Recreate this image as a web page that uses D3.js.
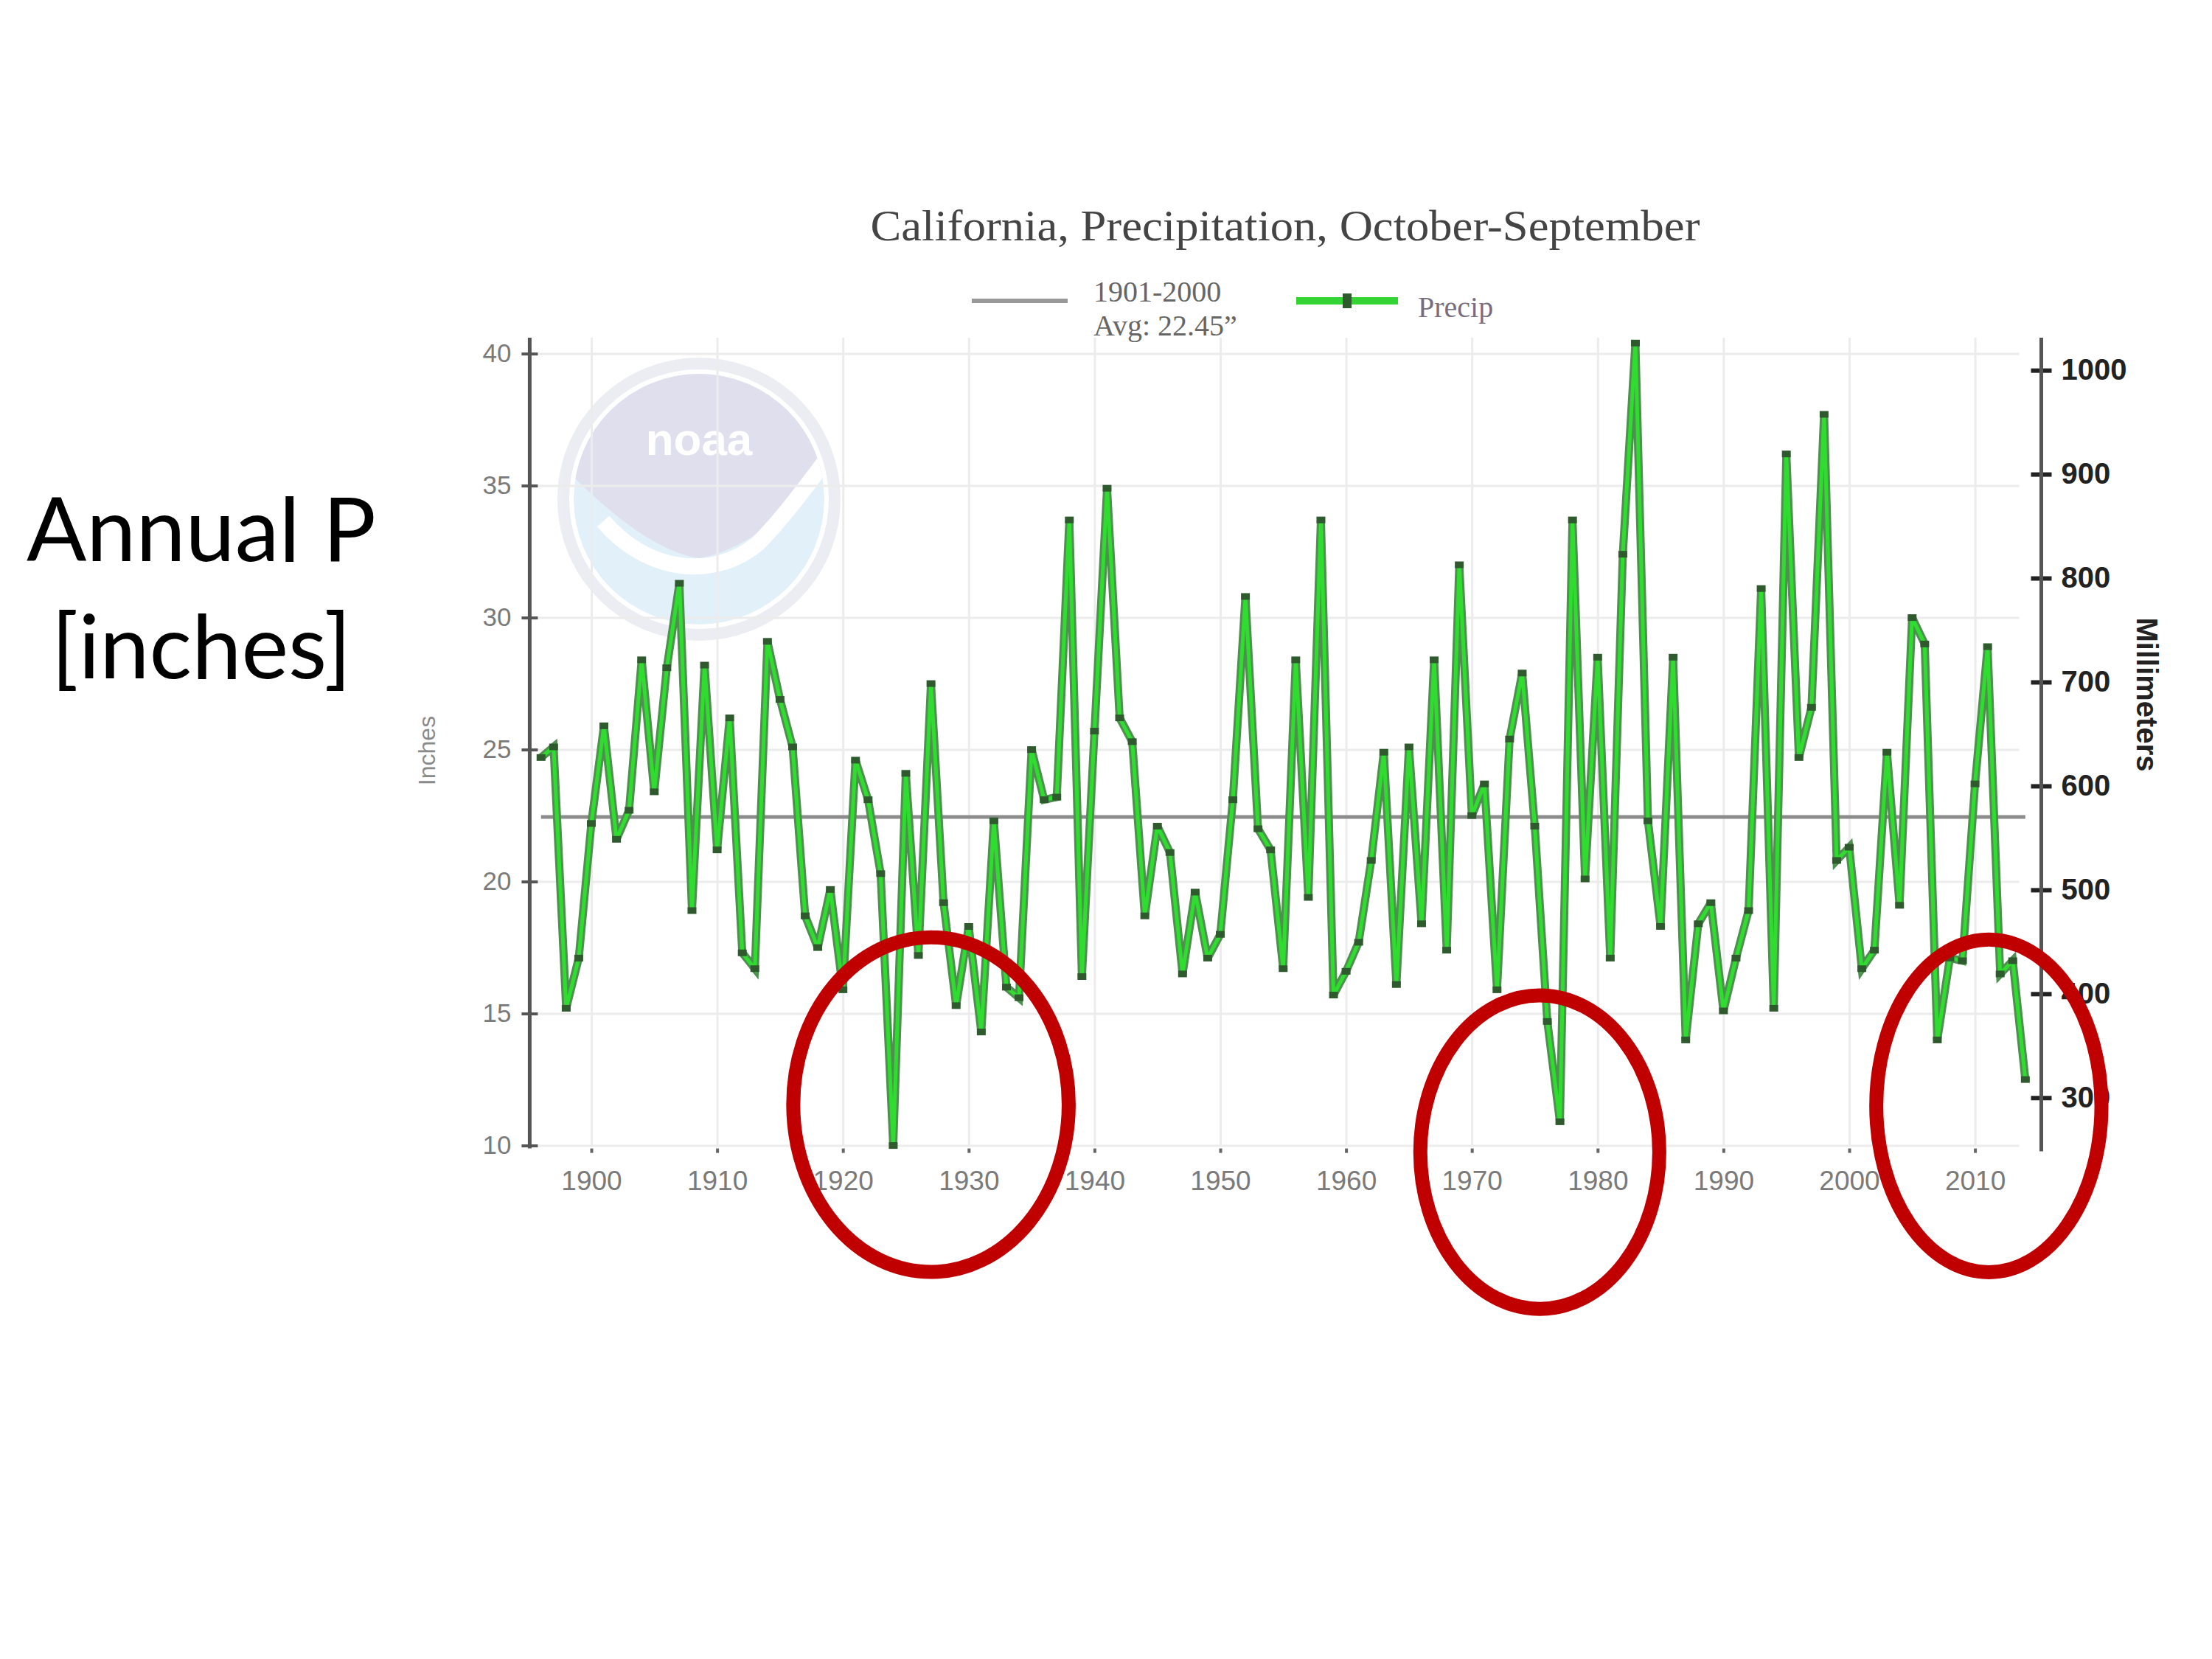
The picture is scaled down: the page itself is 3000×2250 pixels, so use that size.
<!DOCTYPE html>
<html>
<head>
<meta charset="utf-8">
<script src="https://cdnjs.cloudflare.com/ajax/libs/d3/7.8.5/d3.min.js"></script>
<style>
  body { margin: 0; background: #fff; }
</style>
</head>
<body>
<div id="my_dataviz"></div>
<script>
// water years, Oct-Sep
var years = [
  1896, 1897, 1898, 1899,
  1900, 1901, 1902, 1903, 1904, 1905, 1906, 1907, 1908, 1909,
  1910, 1911, 1912, 1913, 1914, 1915, 1916, 1917, 1918, 1919,
  1920, 1921, 1922, 1923, 1924, 1925, 1926, 1927, 1928, 1929,
  1930, 1931, 1932, 1933, 1934, 1935, 1936, 1937, 1938, 1939,
  1940, 1941, 1942, 1943, 1944, 1945, 1946, 1947, 1948, 1949,
  1950, 1951, 1952, 1953, 1954, 1955, 1956, 1957, 1958, 1959,
  1960, 1961, 1962, 1963, 1964, 1965, 1966, 1967, 1968, 1969,
  1970, 1971, 1972, 1973, 1974, 1975, 1976, 1977, 1978, 1979,
  1980, 1981, 1982, 1983, 1984, 1985, 1986, 1987, 1988, 1989,
  1990, 1991, 1992, 1993, 1994, 1995, 1996, 1997, 1998, 1999,
  2000, 2001, 2002, 2003, 2004, 2005, 2006, 2007, 2008, 2009,
  2010, 2011, 2012, 2013, 2014
];

// California statewide precipitation, inches
var precip = [
  24.7, 25.1, 15.2, 17.1,
  22.2, 25.9, 21.6, 22.7, 28.4, 23.4, 28.1, 31.3, 18.9, 28.2,
  21.2, 26.2, 17.3, 16.7, 29.1, 26.9, 25.1, 18.7, 17.5, 19.7,
  15.9, 24.6, 23.1, 20.3, 10.0, 24.1, 17.2, 27.5, 19.2, 15.3,
  18.3, 14.3, 22.3, 16.0, 15.6, 25.0, 23.1, 23.2, 33.7, 16.4,
  25.7, 34.9, 26.2, 25.3, 18.7, 22.1, 21.1, 16.5, 19.6, 17.1,
  18.0, 23.1, 30.8, 22.0, 21.2, 16.7, 28.4, 19.4, 33.7, 15.7,
  16.6, 17.7, 20.8, 24.9, 16.1, 25.1, 18.4, 28.4, 17.4, 32.0,
  22.5, 23.7, 15.9, 25.4, 27.9, 22.1, 14.7, 10.9, 33.7, 20.1,
  28.5, 17.1, 32.4, 40.4, 22.3, 18.3, 28.5, 14.0, 18.4, 19.2,
  15.1, 17.1, 18.9, 31.1, 15.2, 36.2, 24.7, 26.6, 37.7, 20.8,
  21.3, 16.7, 17.4, 24.9, 19.1, 30.0, 29.0, 14.0, 17.1, 17.0,
  23.7, 28.9, 16.5, 17.0, 12.5
];

var avg = 22.45;

var xTicks = [1900, 1910, 1920, 1930, 1940, 1950, 1960, 1970, 1980, 1990, 2000, 2010];
var yTicks = [10, 15, 20, 25, 30, 35, 40];
var mmTicks = [300, 400, 500, 600, 700, 800, 900, 1000];

// red circles drawn on the slide (centre year / inches, radius in years / inches)
var circleYear = [1927.0, 1975.4, 2011.1];
var circleInch = [11.55, 9.75, 11.5];
var circleRx = [10.95, 9.5, 8.95];
var circleRy = [6.34, 5.94, 6.3];

var data = years.map(function(yr, i) { return {year: yr, value: precip[i]}; });

var W = 3000, H = 2250;

var svg = d3.select("#my_dataviz")
  .append("svg")
    .attr("width", W)
    .attr("height", H)
    .style("display", "block");

svg.append("rect").attr("width", W).attr("height", H).attr("fill", "#fff");

// scales
var x = d3.scaleLinear().domain([1900, 2010]).range([802, 2678.6]);
var y = d3.scaleLinear().domain([10, 40]).range([1553.6, 479.6]);
var yMM = d3.scaleLinear().domain([10 * 25.4, 40 * 25.4]).range(y.range());

var xMin = 1895.1, xMax = 2015.27, yTop = 40.6;
var left = x(xMin), right = x(xMax);

// NOAA watermark
var logo = svg.append("g")
    .attr("transform", "translate(948,677)")
    .style("opacity", 0.75);
logo.append("circle").attr("r", 184).attr("fill", "none")
    .attr("stroke", "#e6e8f0").attr("stroke-width", 16);
logo.append("clipPath").attr("id", "logoClip")
  .append("circle").attr("r", 170);
var inner = logo.append("g").attr("clip-path", "url(#logoClip)");
inner.append("circle").attr("r", 170).attr("fill", "#d9ebf8");
inner.append("path")
    .attr("d", "M-180,-40 C-120,20 -60,70 0,80 C60,70 120,20 180,-40 L180,-200 L-180,-200 Z")
    .attr("fill", "#d5d5e8");
inner.append("path")
    .attr("d", "M-130,30 C-70,100 20,110 80,60 C110,30 140,-10 170,-50")
    .attr("fill", "none")
    .attr("stroke", "#fff")
    .attr("stroke-width", 22);
logo.append("text")
    .attr("x", 0).attr("y", -60)
    .attr("text-anchor", "middle")
    .style("font-family", "Liberation Sans")
    .style("font-weight", "bold")
    .style("font-size", "62px")
    .style("fill", "#fff")
    .text("noaa");

// grid lines
var xGrid = svg.append("g")
    .attr("transform", "translate(0," + y(10) + ")")
    .call(d3.axisBottom(x).tickValues(xTicks).tickSize(-(y(10) - y(yTop))).tickFormat(""));
xGrid.select(".domain").remove();
xGrid.selectAll("line").attr("stroke", "#ececec").attr("stroke-width", 3);

var yGrid = svg.append("g")
    .attr("transform", "translate(" + left + ",0)")
    .call(d3.axisLeft(y).tickValues(yTicks).tickSize(-(right - 30 - left)).tickFormat(""));
yGrid.select(".domain").remove();
yGrid.selectAll("line").attr("stroke", "#ececec").attr("stroke-width", 3);

// 1901-2000 average
svg.append("line")
    .attr("x1", x(years[0])).attr("x2", x(years[years.length - 1]))
    .attr("y1", y(avg)).attr("y2", y(avg))
    .attr("stroke", "#8c8c8c")
    .attr("stroke-width", 5);

// precip line: dark edge with bright green centre
var line = d3.line()
    .x(function(d) { return x(d.year); })
    .y(function(d) { return y(d.value); });

svg.append("path")
    .datum(data)
    .attr("d", line)
    .attr("fill", "none")
    .attr("stroke", "#4f8f4f")
    .attr("stroke-width", 11)
    .attr("stroke-linejoin", "miter")
    .attr("stroke-miterlimit", 3);
svg.append("path")
    .datum(data)
    .attr("d", line)
    .attr("fill", "none")
    .attr("stroke", "#2fdc2f")
    .attr("stroke-width", 5)
    .attr("stroke-linejoin", "miter")
    .attr("stroke-miterlimit", 3);

svg.selectAll("rect.pt")
  .data(data)
  .enter()
  .append("rect")
    .attr("class", "pt")
    .attr("x", function(d) { return x(d.year) - 6; })
    .attr("y", function(d) { return y(d.value) - 4.5; })
    .attr("width", 12)
    .attr("height", 9)
    .attr("fill", "#2e5a2e");

// left axis (inches)
var yAxisL = svg.append("g")
    .attr("transform", "translate(" + left + ",0)")
    .call(d3.axisLeft(y).tickValues(yTicks).tickSize(11).tickPadding(14));
yAxisL.select(".domain").remove();
yAxisL.selectAll("line").attr("x2", -11).attr("x1", 11)
    .attr("stroke", "#555").attr("stroke-width", 4);
yAxisL.selectAll("text")
    .style("font-family", "Liberation Sans")
    .style("font-size", "35px")
    .style("fill", "#7a7a7a");
svg.append("line")
    .attr("x1", left).attr("x2", left)
    .attr("y1", y(yTop)).attr("y2", y(10) + 4)
    .attr("stroke", "#555").attr("stroke-width", 5);

// right axis (millimeters)
var yAxisR = svg.append("g")
    .attr("transform", "translate(" + right + ",0)")
    .call(d3.axisRight(yMM).tickValues(mmTicks).tickFormat(d3.format("d")).tickSize(14).tickPadding(13));
yAxisR.select(".domain").remove();
yAxisR.selectAll("line").attr("x1", -14)
    .attr("stroke", "#222").attr("stroke-width", 6);
yAxisR.selectAll("text")
    .style("font-family", "Liberation Sans")
    .style("font-weight", "bold")
    .style("font-size", "40px")
    .style("fill", "#222");
svg.append("line")
    .attr("x1", right).attr("x2", right)
    .attr("y1", y(yTop)).attr("y2", y(10) + 8)
    .attr("stroke", "#555").attr("stroke-width", 5);

// bottom axis (years)
var xAxis = svg.append("g")
    .attr("transform", "translate(0," + y(10) + ")")
    .call(d3.axisBottom(x).tickValues(xTicks).tickFormat(d3.format("d")).tickSize(10).tickPadding(24));
xAxis.select(".domain").remove();
xAxis.selectAll("line").attr("y1", 4).attr("stroke", "#666").attr("stroke-width", 4);
xAxis.selectAll("text")
    .style("font-family", "Liberation Sans")
    .style("font-size", "37px")
    .style("fill", "#7a7a7a");

// axis titles
svg.append("text")
    .attr("transform", "translate(579,1018) rotate(-90)")
    .attr("text-anchor", "middle")
    .attr("dy", "0.35em")
    .style("font-family", "Liberation Sans")
    .style("font-size", "32px")
    .style("fill", "#8a8a8a")
    .text("Inches");

svg.append("text")
    .attr("transform", "translate(2912,942) rotate(90)")
    .attr("text-anchor", "middle")
    .attr("dy", "0.35em")
    .style("font-family", "Liberation Sans")
    .style("font-weight", "bold")
    .style("font-size", "40px")
    .style("fill", "#222")
    .text("Millimeters");

// chart title
svg.append("text")
    .attr("x", 1743).attr("y", 326)
    .attr("text-anchor", "middle")
    .attr("textLength", 1125)
    .attr("lengthAdjust", "spacingAndGlyphs")
    .style("font-family", "Liberation Serif")
    .style("font-size", "60px")
    .style("fill", "#444")
    .text("California, Precipitation, October-September");

// legend
var legend = svg.append("g");
legend.append("line")
    .attr("x1", 1318).attr("x2", 1448).attr("y1", 408).attr("y2", 408)
    .attr("stroke", "#999").attr("stroke-width", 6);
legend.append("text")
    .attr("x", 1483).attr("y", 409)
    .style("font-family", "Liberation Serif")
    .style("font-size", "40px")
    .style("fill", "#666")
    .text("1901-2000");
legend.append("text")
    .attr("x", 1483).attr("y", 455)
    .style("font-family", "Liberation Serif")
    .style("font-size", "40px")
    .style("fill", "#666")
    .text("Avg: " + avg + "\u201d");
legend.append("line")
    .attr("x1", 1758).attr("x2", 1896).attr("y1", 408).attr("y2", 408)
    .attr("stroke", "#33d433").attr("stroke-width", 10);
legend.append("rect")
    .attr("x", 1821).attr("y", 398).attr("width", 12).attr("height", 20)
    .attr("fill", "#2e5a2e");
legend.append("text")
    .attr("x", 1923).attr("y", 430)
    .style("font-family", "Liberation Serif")
    .style("font-size", "40px")
    .style("fill", "#776f80")
    .text("Precip");

// slide label
var label = svg.append("text")
    .attr("text-anchor", "middle")
    .style("font-family", "Lato")
    .style("font-size", "120px")
    .style("fill", "#000");
label.append("tspan").attr("x", 273).attr("y", 761)
    .attr("textLength", 474).attr("lengthAdjust", "spacingAndGlyphs")
    .text("Annual P");
label.append("tspan").attr("x", 273).attr("y", 920)
    .attr("textLength", 407).attr("lengthAdjust", "spacingAndGlyphs")
    .text("[inches]");

// red highlight ellipses
svg.selectAll("ellipse.hl")
  .data(circleYear)
  .enter()
  .append("ellipse")
    .attr("class", "hl")
    .attr("cx", function(d) { return x(d); })
    .attr("cy", function(d, i) { return y(circleInch[i]); })
    .attr("rx", function(d, i) { return x(d + circleRx[i]) - x(d); })
    .attr("ry", function(d, i) { return y(circleInch[i] - circleRy[i]) - y(circleInch[i]); })
    .attr("fill", "none")
    .attr("stroke", "#c00000")
    .attr("stroke-width", 19);
</script>
</body>
</html>
